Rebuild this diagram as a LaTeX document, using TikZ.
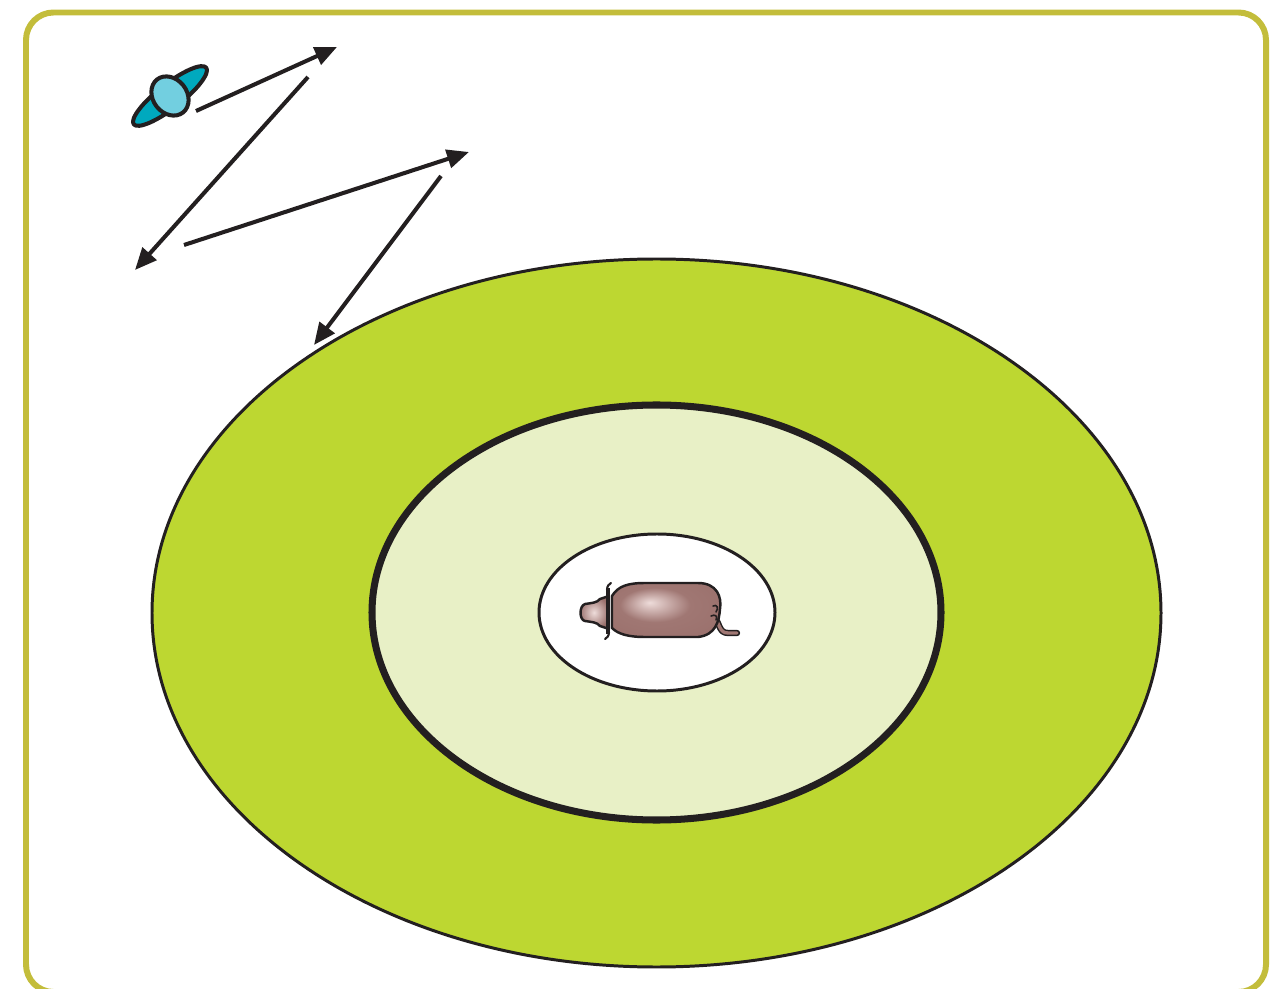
\documentclass[tikz,border=0pt]{standalone}
\usepackage{tikz}
\usetikzlibrary{arrows.meta}

\definecolor{frameolive}{HTML}{C3BD3B}
\definecolor{fieldgreen}{HTML}{BDD731}
\definecolor{palegreen}{HTML}{E8F0C6}
\definecolor{satteal}{HTML}{00A9BE}
\definecolor{satblue}{HTML}{72CFE0}
\definecolor{skindark}{HTML}{7C4D49}
\definecolor{skinmid}{HTML}{A07773}
\definecolor{skinlight}{HTML}{EEDCDA}
\definecolor{inkblack}{HTML}{231F20}

% soft highlight for the casing
\pgfdeclareradialshading{casingshine}{\pgfpoint{-8bp}{7bp}}{%
    color(0bp)=(skinlight); color(16bp)=(skinmid); color(34bp)=(skinmid!85!skindark);
    color(50bp)=(skindark)}

\begin{document}
\begin{tikzpicture}[x=0.02cm, y=-0.02cm]

    % Define styles
    \tikzstyle{zone} = [draw=inkblack, line width=1.7pt]
    \tikzstyle{signal} = [draw=inkblack, line width=2.3pt,
        -{Triangle[length=12.5pt, width=10.5pt]}]
    \tikzstyle{part} = [draw=inkblack, line width=1.4pt, line join=round]

    \useasboundingbox (0,0) rectangle (1278,989);
    \clip (0,0) rectangle (1278,989);

    % Frame
    \draw[frameolive, line width=3.4pt, rounded corners=0.55cm]
        (26,12.5) rectangle (1266,992);

    % Zones
    \draw[zone, fill=fieldgreen] (656.5,613) ellipse [x radius=504.5, y radius=354];
    \draw[zone, fill=palegreen, line width=4pt] (656.5,612.5) ellipse [x radius=284.5, y radius=207.5];
    \draw[zone, fill=white] (657,612.5) ellipse [x radius=118, y radius=78.5];

    % Satellite
    \draw[part, line width=2.3pt, fill=satteal, rotate around={38:(170,96)}]
        (170,96) ellipse [x radius=46, y radius=12];
    \draw[part, line width=2.3pt, fill=satblue, rotate around={38:(170,96)}]
        (170,96) ellipse [x radius=17, y radius=21];

    % Signal path
    \coordinate (out1) at (196,111);
    \coordinate (hit1) at (337,47);
    \coordinate (out2) at (308,77);
    \coordinate (hit2) at (135,270);
    \coordinate (out3) at (184,245);
    \coordinate (hit3) at (469,152);
    \coordinate (out4) at (441,176);
    \coordinate (hit4) at (314,345);

    \draw[signal] (out1) -- (hit1);
    \draw[signal] (out2) -- (hit2);
    \draw[signal] (out3) -- (hit3);
    \draw[signal] (out4) -- (hit4);

    % Sausage: tail first, then casing on top
    \draw[inkblack, line width=3.6pt, line cap=round, line join=round]
        (714,616) .. controls (720,624) and (719,633) .. (728,633) -- (737,633);
    \draw[skinmid, line width=1.9pt, line cap=round, line join=round]
        (714,616) .. controls (720,624) and (719,633) .. (728,633) -- (737,633);
    \shade[part, shading=casingshine]
        (612,596) .. controls (618,586) and (628,583) .. (645,583)
        -- (698,583) .. controls (717,583) and (722,597) .. (720,609)
        .. controls (719,621) and (716,635) .. (698,637)
        -- (645,637) .. controls (628,637) and (618,634) .. (612,628) -- cycle;
    \shade[part, inner color=skinlight, outer color=skinmid!80!skindark]
        (609,596) -- (600,599) .. controls (597,603) and (591,603) .. (585,604)
        .. controls (579,606) and (579,620) .. (585,621)
        .. controls (591,622) and (597,622) .. (600,626) -- (609,629) -- cycle;
    % tie and knot
    \draw[inkblack, line width=2.2pt] (608,588) -- (608,634);
    \draw[inkblack, line width=1.2pt, line cap=round]
        (607,590) .. controls (607,586) and (609,584) .. (611,583);
    \draw[inkblack, line width=1.2pt, line cap=round]
        (609,632) .. controls (609,636) and (607,638) .. (605,639);
    \draw[inkblack, line width=0.9pt, line cap=round]
        (713,606) .. controls (717,604) and (719,608) .. (716,612);
    \draw[inkblack, line width=0.9pt, line cap=round]
        (711,616) .. controls (715,614) and (718,616) .. (716,620);

\end{tikzpicture}
\end{document}
